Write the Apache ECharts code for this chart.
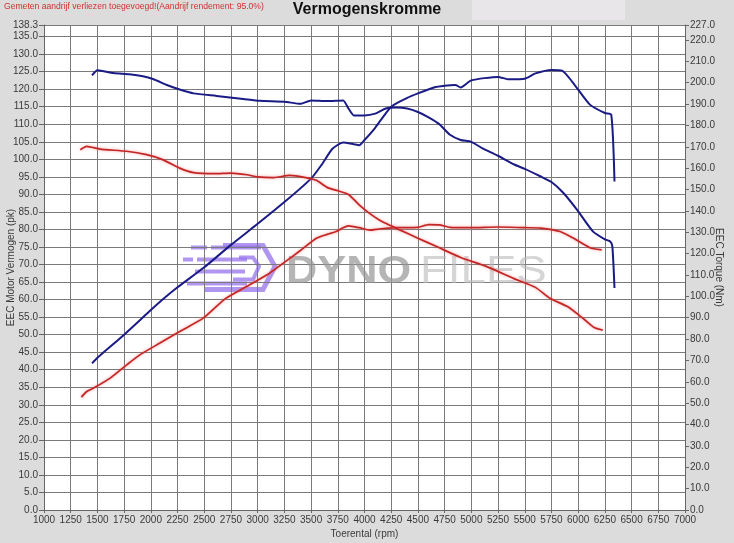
<!DOCTYPE html>
<html><head><meta charset="utf-8">
<script src="https://cdn.jsdelivr.net/npm/echarts@6/dist/echarts.min.js"></script>
<style>html,body{margin:0;padding:0;background:#dcdcdc;}#c{width:734px;height:543px;}</style>
</head><body><div id="c"></div>
<script>
// Blue curve: power (pk) vs rpm
const bluePowerRpm = [1450,1500,1750,2000,2110,2250,2500,2750,3000,3250,3500,3600,3700,3800,3900,3950,4000,4100,4250,4400,4500,4650,4750,4850,4900,5000,5250,5350,5500,5600,5750,5850,5950,6110,6250,6310,6340];
const bluePowerVal = [41.8,43.4,50,57,60,63.5,69.2,75.6,81.6,87.8,94.5,98.5,103,104.8,104.3,104,105.5,109,115,117.5,118.8,120.5,121,121.2,120.5,122.5,123.5,122.8,123,124.5,125.5,125.3,121.9,115.6,113.2,112.7,93.7];
// Blue curve: torque (Nm) vs rpm
const blueTorqueRpm = [1450,1500,1650,1800,1925,2020,2150,2270,2400,2615,2865,3020,3250,3400,3500,3650,3800,3850,3900,4000,4100,4200,4300,4400,4500,4600,4700,4800,4900,5000,5100,5250,5400,5500,5650,5750,5860,5990,6140,6250,6300,6320,6340];
const blueTorqueVal = [203.4,205.8,204.5,203.9,203.0,201.7,198.9,196.8,195.0,193.8,192.4,191.5,191.1,190.1,191.7,191.4,191.7,187.9,184.7,184.7,185.5,187.9,188.4,187.9,186.3,183.8,180.6,175.6,173.2,172.3,169.4,165.8,161.7,159.7,156.1,153.5,148.5,140.5,130.3,126.7,125.7,123.4,103.9];
// Red curve: power (pk) vs rpm
const redPowerRpm = [1350,1400,1460,1620,1775,1900,2085,2270,2490,2695,2900,3100,3240,3400,3550,3650,3735,3800,3850,3950,4050,4150,4300,4500,4600,4700,4800,5000,5250,5500,5650,5830,5950,6110,6220];
const redPowerVal = [32.2,33.8,34.7,37.6,41.4,44.3,47.6,50.9,54.7,60.2,63.8,67.3,70.4,74,77.5,78.6,79.4,80.5,81,80.5,79.8,80.2,80.5,80.6,81.4,81.3,80.6,80.5,80.7,80.5,80.4,79.4,77.6,74.8,74.2];
// Red curve: torque (Nm) vs rpm
const redTorqueRpm = [1340,1400,1525,1775,1960,2110,2270,2400,2600,2750,2900,3000,3150,3300,3450,3550,3650,3750,3850,3950,4050,4150,4250,4330,4500,4675,4900,5145,5400,5600,5735,5900,6050,6150,6230];
const redTorqueVal = [168.6,170.2,168.9,167.9,166.3,164.0,160.0,157.9,157.4,157.7,156.9,155.9,155.6,156.6,155.6,154.3,151.0,149.4,147.7,142.8,138.7,135.4,133.0,131.1,127.2,123.3,118.2,113.9,108.3,104.2,99.1,95.2,89.5,85.4,84.2];

const titleText = 'Vermogenskromme';
const noteText = 'Gemeten aandrijf verliezen toegevoegd!(Aandrijf rendement: 95.0%)';
const xName = 'Toerental (rpm)';
const yLeftName = 'EEC Motor Vermogen (pk)';
const yRightName = 'EEC Torque (Nm)';

function pairs(xs, ys){ return xs.map((x,i)=>[x, ys[i]]); }

const chart = echarts.init(document.getElementById('c'), null, {renderer:'canvas'});
const FONT = 'Liberation Sans, Arial, sans-serif';
const lbl = {fontFamily: FONT, fontSize: 10, color: '#3a3a3a'};
const BLUE = '#1b1b86', RED = '#c42626';
const WM = 'rgba(150,115,235,0.75)';

chart.setOption({
  backgroundColor: '#dcdcdc',
  animation: false,
  grid: {left: 44, right: 49, top: 25, bottom: 33, show: true, backgroundColor: '#ffffff', borderWidth: 0, containLabel: false, outerBoundsMode: 'none'},
  xAxis: {
    type: 'value', min: 1000, max: 7000, interval: 250,
    name: xName, nameLocation: 'middle', nameGap: 19, nameMoveOverlap: false,
    nameTextStyle: lbl,
    axisLine: {show: true, lineStyle: {color: '#666'}},
    axisTick: {show: true, length: 3, lineStyle: {color: '#666'}},
    axisLabel: Object.assign({margin: 5, formatter: v => String(v)}, lbl),
    splitLine: {show: true, lineStyle: {color: '#7a7a7a', width: 1}}
  },
  yAxis: [{
    type: 'value', min: 0, max: 138.3, interval: 5, position: 'left',
    name: yLeftName, nameLocation: 'middle', nameGap: 28, nameMoveOverlap: false,
    nameTextStyle: lbl,
    axisLine: {show: true, lineStyle: {color: '#666'}},
    axisTick: {show: true, length: 5, lineStyle: {color: '#666'}},
    axisLabel: Object.assign({margin: 6, formatter: v => v.toFixed(1)}, lbl),
    splitLine: {show: true, lineStyle: {color: '#7a7a7a', width: 1}}
  },{
    type: 'value', min: 0, max: 227, interval: 10, position: 'right',
    name: yRightName, nameLocation: 'middle', nameGap: 29, nameRotate: -90, nameMoveOverlap: false,
    nameTextStyle: lbl,
    axisLine: {show: true, lineStyle: {color: '#666'}},
    axisTick: {show: true, length: 4, lineStyle: {color: '#666'}},
    axisLabel: Object.assign({margin: 5, formatter: v => v.toFixed(1)}, lbl),
    splitLine: {show: false}
  }],
  graphic: [
    {type: 'rect', left: 472, top: 0, shape: {width: 153, height: 20}, style: {fill: '#e8e6e9'}, z: 1},
    {type: 'text', left: 4, top: 2, style: {text: noteText, font: '8.6px ' + FONT, fill: '#d03030'}, z: 10},
    {type: 'text', left: 'center', top: 2, style: {text: titleText, font: 'bold 16px ' + FONT, fill: '#111'}, z: 10},
    // watermark logo
    {type: 'group', left: 183, top: 243, z: 5, silent: true, children: [
      {type: 'rect', shape: {x: 8, y: 6, width: 16, height: 4}, style: {fill: WM}},
      {type: 'rect', shape: {x: 28, y: 6, width: 50, height: 4}, style: {fill: WM}},
      {type: 'rect', shape: {x: 0, y: 18, width: 10, height: 4}, style: {fill: WM}},
      {type: 'rect', shape: {x: 14, y: 18, width: 50, height: 4}, style: {fill: WM}},
      {type: 'rect', shape: {x: 12, y: 30, width: 50, height: 4}, style: {fill: WM}},
      {type: 'rect', shape: {x: 4, y: 42, width: 60, height: 4}, style: {fill: WM}},
      {type: 'polyline', shape: {points: [[40,6],[80,6],[92,27],[80,50],[22,50]]}, style: {stroke: WM, lineWidth: 5, fill: null}},
      {type: 'polyline', shape: {points: [[56,18],[70,18],[76,27],[70,40],[50,40]]}, style: {stroke: WM, lineWidth: 4, fill: null}}
    ]},
    {type: 'text', left: 286, top: 254, scaleX: 1.14, z: 5, silent: true, style: {text: 'DYNO', font: 'bold 38px ' + FONT, fill: 'rgba(150,150,150,0.7)'}},
    {type: 'text', left: 420, top: 254, scaleX: 1.2, z: 5, silent: true, style: {text: 'FILES', font: '38px ' + FONT, fill: 'rgba(185,185,185,0.6)'}}
  ],
  series: [
    {type: 'line', name: 'blue power', yAxisIndex: 0, data: pairs(bluePowerRpm, bluePowerVal), showSymbol: false, smooth: 0.2, lineStyle: {color: BLUE, width: 2}, z: 20},
    {type: 'line', name: 'blue torque', yAxisIndex: 1, data: pairs(blueTorqueRpm, blueTorqueVal), showSymbol: false, smooth: 0.2, lineStyle: {color: BLUE, width: 2}, z: 20},
    {type: 'line', name: 'red power', yAxisIndex: 0, data: pairs(redPowerRpm, redPowerVal), showSymbol: false, smooth: 0.2, lineStyle: {color: RED, width: 1.7, shadowColor: 'rgba(235,110,110,0.7)', shadowBlur: 3}, z: 20},
    {type: 'line', name: 'red torque', yAxisIndex: 1, data: pairs(redTorqueRpm, redTorqueVal), showSymbol: false, smooth: 0.2, lineStyle: {color: RED, width: 1.7, shadowColor: 'rgba(235,110,110,0.7)', shadowBlur: 3}, z: 20}
  ]
});
</script></body></html>
